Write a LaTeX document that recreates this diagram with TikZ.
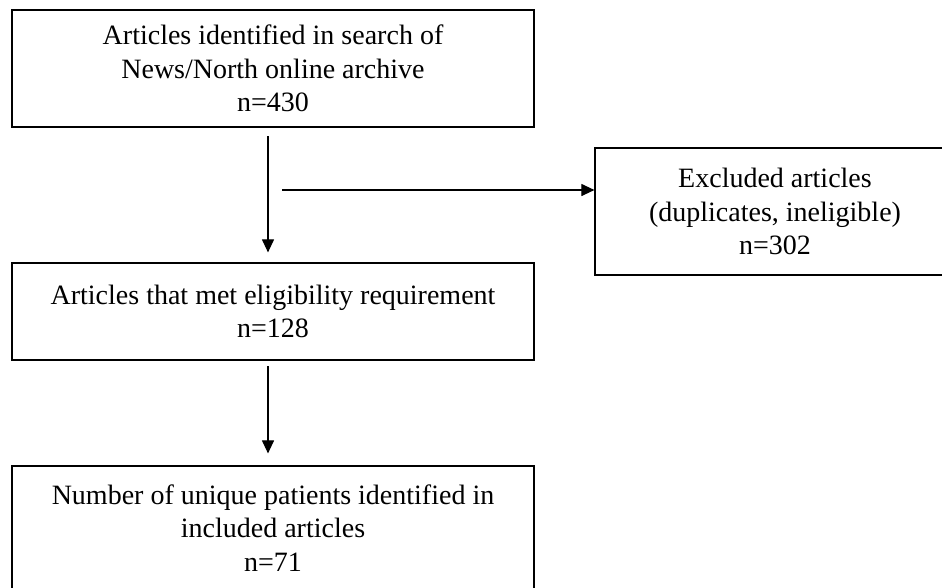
\documentclass[tikz,border=0pt]{standalone}
\usepackage{fontspec}
\setmainfont{Liberation Serif}
\usetikzlibrary{arrows.meta}
\begin{document}
\begin{tikzpicture}[x=1pt,y=-1pt,
  box/.style={draw, line width=1.2pt, align=center, font=\fontsize{28}{33.5}\selectfont, inner sep=0pt},
  arr/.style={line width=1.1pt, -{Triangle[length=13pt,width=12pt]}}]
\useasboundingbox (0,0) rectangle (942,587);
\node[box, minimum width=522pt, minimum height=117pt] (b1) at (273,68.5) {Articles identified in search of\\News/North online archive\\n=430};
\node[box, minimum width=522pt, minimum height=97pt] (b3) at (273,311.5) {Articles that met eligibility requirement\\n=128};
\node[box, minimum width=360pt, minimum height=127pt, text depth=0pt] (ex) at (775,211.5) {Excluded articles\\(duplicates, ineligible)\\n=302};
\node[box, minimum width=522pt, minimum height=124pt] (b4) at (273,528) {Number of unique patients identified in\\included articles\\n=71};
\coordinate (a1s) at (268,136);
\coordinate (a2s) at (268,366);
\coordinate (hs) at (282,190);
\draw[arr] (a1s) -- ([yshift=10pt]a1s |- b3.north);
\draw[arr] (hs) -- (hs -| ex.west);
\draw[arr] (a2s) -- ([yshift=12pt]a2s |- b4.north);
\end{tikzpicture}
\end{document}
